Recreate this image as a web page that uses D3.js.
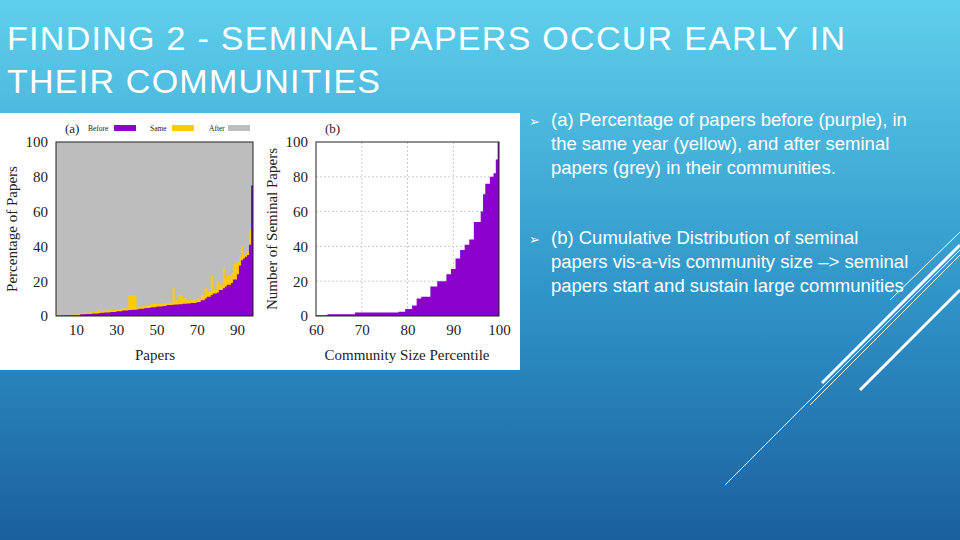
<!DOCTYPE html>
<html><head><meta charset="utf-8">
<script src="https://cdn.jsdelivr.net/npm/d3@7"></script>
<style>body{margin:0;}svg{display:block;}</style>
</head><body>
<svg id="slide" width="960" height="540"></svg>
<script>
// (a) paper index vs stacked percentages
var paperIdx = [1,4,8,12,15,18,21,22,24,27,30,33,36,38,40,41,44,47,50,53,55,58,59,61,63,65,67,70,72,74,75,77,78,80,81,83,84,85,87,88,90,91,92,93,94,95,96,97,98];
var beforePct = [0.3,0.3,0.4,0.5,1,1.2,1.5,1.6,1.8,2,2.3,2.8,3.2,3.4,3.6,3.8,4.2,4.6,5,5.4,5.8,6.3,6.5,6.6,6.8,7,7.2,7.5,8,9,10,11,12,13,13.5,15,16,17,18,19,21,24,29,32,33,34,35,41,75];
var samePct   = [1.5,0.4,0.6,0.8,1.6,2,2.4,4,2.8,3.2,3.6,4,4.4,12,12,4.6,5.4,6,7,7,7.2,7.5,16,9,12,10,9,9,10,12,16,14,23,15,20,18,27,22,23,24,30,31,34,40,35,36,37,50,75];
// (b) cumulative seminal papers vs community size percentile
var pctile = [60,62.5,68.5,78,79.5,81,82,83,85,86.5,88.5,89.5,90.5,91.5,92.5,93.5,94.5,96,96.5,97,98,98.8,99.3,99.7,100];
var seminal = [0.5,1,2,2.5,4,6,10,11,17,20,24,27,33,38,41,44,54,60,70,76,80,82,90,100,100];
var ticksA = [10,30,50,70,90], ticksB = [60,70,80,90,100], ticksY = [0,20,40,60,80,100];

var svg = d3.select("#slide");
var defs = svg.append("defs");
var g = defs.append("linearGradient").attr("id","bg").attr("x1",0).attr("y1",0).attr("x2",0).attr("y2",1);
g.append("stop").attr("offset","0%").attr("stop-color","#5fd0ec");
g.append("stop").attr("offset","55%").attr("stop-color","#2f94c8");
g.append("stop").attr("offset","100%").attr("stop-color","#1b5f9e");
svg.append("rect").attr("width",960).attr("height",540).attr("fill","url(#bg)");

// decorative lines
[[725,485,960,250,1],[810,405,960,255,1],[822,383,960,245,3],[860,390,960,290,3],[890,300,960,232,1]].forEach(function(l){
  svg.append("line").attr("x1",l[0]).attr("y1",l[1]).attr("x2",l[2]).attr("y2",l[3]).attr("stroke","#fff").attr("stroke-width",l[4]);
});

// title
var title = svg.append("text").attr("fill","#fff").attr("font-family","Liberation Sans, Arial, sans-serif").attr("font-size",34)
  .attr("textLength",null);
title.append("tspan").attr("x",7).attr("y",50).attr("textLength",838).attr("lengthAdjust","spacing").text("FINDING 2 - SEMINAL PAPERS OCCUR EARLY IN");
title.append("tspan").attr("x",7).attr("y",93).attr("textLength",373).attr("lengthAdjust","spacing").text("THEIR COMMUNITIES");

// bullets
var bullets = [
  ["(a) Percentage of papers before (purple), in","the same year (yellow), and after seminal","papers (grey) in their communities."],
  ["(b) Cumulative Distribution of seminal","papers vis-a-vis community size –> seminal","papers start and sustain large communities"]
];
bullets.forEach(function(b,i){
  var y0 = 126 + i*118;
  svg.append("text").attr("x",529).attr("y",y0).attr("fill","#fff").attr("font-size",13).attr("font-family","DejaVu Sans").text("➢");
  var t = svg.append("text").attr("fill","#fff").attr("font-family","Liberation Sans, Arial, sans-serif").attr("font-size",18.5);
  b.forEach(function(s,j){ t.append("tspan").attr("x",551).attr("y",y0+j*24).text(s); });
});

// figure box
svg.append("rect").attr("x",0).attr("y",113).attr("width",520).attr("height",257).attr("fill","#fff");
var serif = "Liberation Serif, Times New Roman, serif";
var purple = "#8a00cc", yellow = "#ffcc00", grey = "#bdbdbd";

// chart (a)
var xa = d3.scaleLinear().domain([0,98]).range([56,253]);
var ya = d3.scaleLinear().domain([0,100]).range([316,142]);
var A = svg.append("g");
A.append("rect").attr("x",xa(0)).attr("y",ya(100)).attr("width",xa(98)-xa(0)).attr("height",ya(0)-ya(100)).attr("fill",grey);
var rowsA = paperIdx.map(function(p,i){return {x:p,b:beforePct[i],s:samePct[i]};});
rowsA.unshift({x:0,b:beforePct[0],s:samePct[0]});
A.append("path").datum(rowsA).attr("fill",yellow)
  .attr("d",d3.area().curve(d3.curveStepBefore).x(function(d){return xa(d.x);}).y0(ya(0)).y1(function(d){return ya(d.s);}));
A.append("path").datum(rowsA).attr("fill",purple)
  .attr("d",d3.area().curve(d3.curveStepBefore).x(function(d){return xa(d.x);}).y0(ya(0)).y1(function(d){return ya(d.b);}));
A.append("rect").attr("x",xa(0)).attr("y",ya(100)).attr("width",xa(98)-xa(0)).attr("height",ya(0)-ya(100)).attr("fill","none").attr("stroke","#222");
var axA = A.append("g").attr("transform","translate(0,"+ya(0)+")").call(d3.axisBottom(xa).tickValues(ticksA).tickSize(0).tickPadding(8));
var ayA = A.append("g").attr("transform","translate("+xa(0)+",0)").call(d3.axisLeft(ya).tickValues(ticksY).tickSize(0).tickPadding(8));
[axA,ayA].forEach(function(a){a.select(".domain").remove();a.selectAll("text").attr("font-family",serif).attr("font-size",15).attr("fill","#222");});
A.append("text").attr("x",155).attr("y",360).attr("text-anchor","middle").attr("font-family",serif).attr("font-size",15).attr("fill","#222").text("Papers");
A.append("text").attr("transform","translate(17,229) rotate(-90)").attr("text-anchor","middle").attr("font-family",serif).attr("font-size",15).attr("fill","#222").text("Percentage of Papers");
// legend
A.append("text").attr("x",65).attr("y",133).attr("font-family",serif).attr("font-size",13).attr("fill","#222").text("(a)");
[["Before",88,114,purple],["Same",150,172,yellow],["After",209,228,grey]].forEach(function(l){
  A.append("text").attr("x",l[1]).attr("y",131).attr("font-family",serif).attr("font-size",7.5).attr("fill","#222").text(l[0]);
  A.append("rect").attr("x",l[2]).attr("y",125).attr("width",22).attr("height",6).attr("fill",l[3]);
});

// chart (b)
var xb = d3.scaleLinear().domain([60,100]).range([316,499]);
var yb = d3.scaleLinear().domain([0,100]).range([316,142]);
var B = svg.append("g");
B.selectAll(".gx").data([70,80,90]).enter().append("line").attr("x1",xb).attr("x2",xb).attr("y1",yb(0)).attr("y2",yb(100)).attr("stroke","#ccc").attr("stroke-dasharray","2,2");
B.selectAll(".gy").data([20,40,60,80]).enter().append("line").attr("y1",yb).attr("y2",yb).attr("x1",xb(60)).attr("x2",xb(100)).attr("stroke","#ccc").attr("stroke-dasharray","2,2");
var rowsB = pctile.map(function(p,i){return {x:p,v:seminal[i]};});
B.append("path").datum(rowsB).attr("fill",purple)
  .attr("d",d3.area().curve(d3.curveStepAfter).x(function(d){return xb(d.x);}).y0(yb(0)).y1(function(d){return yb(d.v);}));
B.append("rect").attr("x",xb(60)).attr("y",yb(100)).attr("width",xb(100)-xb(60)).attr("height",yb(0)-yb(100)).attr("fill","none").attr("stroke","#222");
var axB = B.append("g").attr("transform","translate(0,"+yb(0)+")").call(d3.axisBottom(xb).tickValues(ticksB).tickSize(0).tickPadding(8));
var ayB = B.append("g").attr("transform","translate("+xb(60)+",0)").call(d3.axisLeft(yb).tickValues(ticksY).tickSize(0).tickPadding(8));
[axB,ayB].forEach(function(a){a.select(".domain").remove();a.selectAll("text").attr("font-family",serif).attr("font-size",15).attr("fill","#222");});
B.append("text").attr("x",407).attr("y",360).attr("text-anchor","middle").attr("font-family",serif).attr("font-size",15).attr("fill","#222").text("Community Size Percentile");
B.append("text").attr("transform","translate(277,229) rotate(-90)").attr("text-anchor","middle").attr("font-family",serif).attr("font-size",15).attr("fill","#222").text("Number of Seminal Papers");
B.append("text").attr("x",325).attr("y",133).attr("font-family",serif).attr("font-size",13).attr("fill","#222").text("(b)");
</script>
</body></html>
